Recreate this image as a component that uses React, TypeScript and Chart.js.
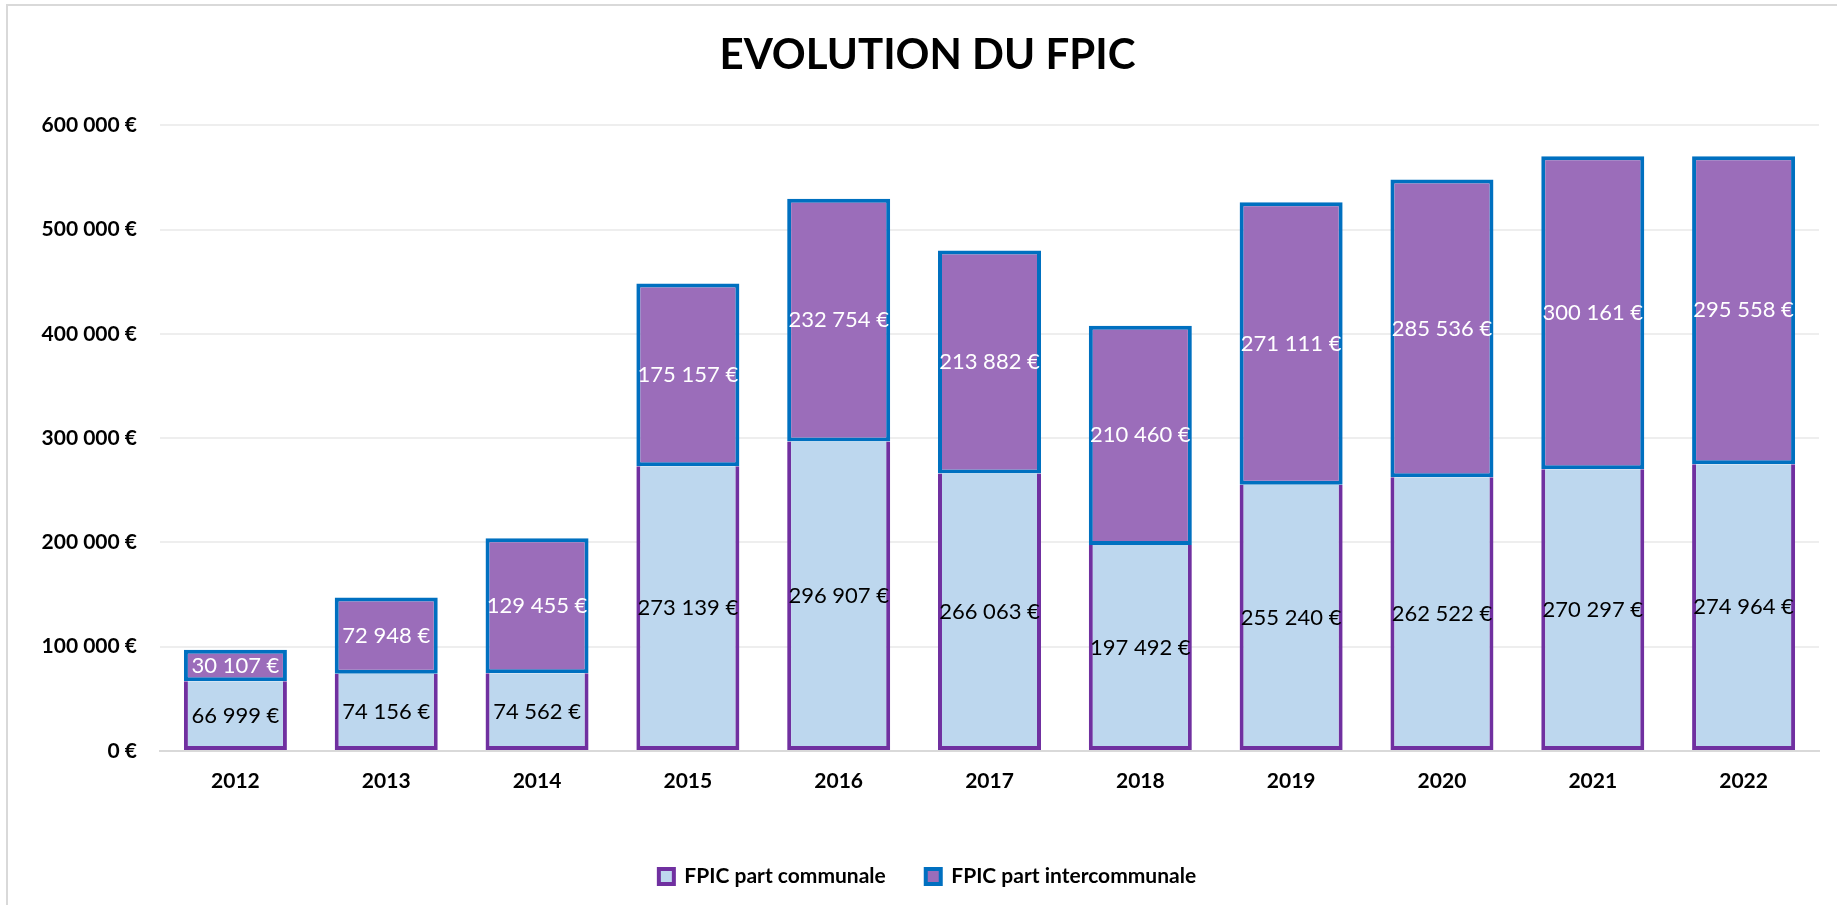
import React, { useEffect, useRef } from "react";
import { Chart, registerables } from "chart.js";

Chart.register(...registerables);

const years = ["2012", "2013", "2014", "2015", "2016", "2017", "2018", "2019", "2020", "2021", "2022"];
const partCommunale = [66999, 74156, 74562, 273139, 296907, 266063, 197492, 255240, 262522, 270297, 274964];
const partIntercommunale = [30107, 72948, 129455, 175157, 232754, 213882, 210460, 271111, 285536, 300161, 295558];
const yTicks = [0, 100000, 200000, 300000, 400000, 500000, 600000];

const FONT = "Lato, 'Open Sans', sans-serif";

const fmt = (v: number) => String(Math.round(v)).replace(/\B(?=(\d{3})+(?!\d))/g, " ") + " €";

const labelPlugin = {
  id: "barLabels",
  afterDatasetsDraw(chart: any) {
    const ctx = chart.ctx;
    ctx.save();
    ctx.font = `22px ${FONT}`;
    ctx.textAlign = "center";
    ctx.textBaseline = "middle";
    chart.data.datasets.forEach((ds: any, di: number) => {
      const meta = chart.getDatasetMeta(di);
      if (meta.hidden) return;
      ctx.fillStyle = di === 0 ? "#000000" : "#FFFFFF";
      meta.data.forEach((el: any, i: number) => {
        const y = (el.y + el.base) / 2;
        ctx.fillText(fmt(ds.data[i]), el.x, y);
      });
    });
    ctx.restore();
  },
};

export default function App() {
  const ref = useRef<HTMLCanvasElement | null>(null);
  useEffect(() => {
    if (!ref.current) return;
    const chart = new Chart(ref.current, {
      type: "bar",
      data: {
        labels: years,
        datasets: [
          {
            label: "FPIC part communale",
            data: partCommunale,
            backgroundColor: "#BDD7EE",
            borderColor: "#7030A0",
            borderWidth: 4,
            borderSkipped: "top",
          },
          {
            label: "FPIC part intercommunale",
            data: partIntercommunale,
            backgroundColor: "#9B6DBA",
            borderColor: "#0070C0",
            borderWidth: 4,
            borderSkipped: false,
          },
        ],
      },
      options: {
        animation: false,
        responsive: false,
        maintainAspectRatio: false,
        layout: { padding: { left: 36, right: 18, top: 0, bottom: 8 } },
        datasets: { bar: { categoryPercentage: 1, barPercentage: 0.683 } },
        plugins: {
          title: {
            display: true,
            text: "EVOLUTION DU FPIC",
            color: "#000000",
            font: { family: FONT, size: 42, weight: "bold", lineHeight: 1.2 },
            padding: { top: 30, bottom: 45 },
          },
          legend: {
            position: "bottom",
            labels: {
              color: "#000000",
              font: { family: FONT, size: 21, weight: "bold" },
              boxWidth: 15,
              boxHeight: 15,
              padding: 40,
            },
          },
          tooltip: { enabled: false },
        },
        scales: {
          x: {
            stacked: true,
            grid: { display: false, drawTicks: false },
            border: { display: true, color: "#D9D9D9", width: 2 },
            ticks: {
              color: "#000000",
              font: { family: FONT, size: 21, weight: "bold" },
              padding: 18,
            },
            afterFit: (scale: any) => {
              scale.height = 75;
            },
          },
          y: {
            stacked: true,
            min: 0,
            max: 600000,
            afterBuildTicks: (scale: any) => {
              scale.ticks = yTicks.map((v) => ({ value: v }));
            },
            grid: { color: "#EEEEEE", lineWidth: 2, drawTicks: false },
            border: { display: false },
            ticks: {
              color: "#000000",
              font: { family: FONT, size: 21, weight: "bold" },
              padding: 23,
              callback: (v: any) => fmt(Number(v)),
            },
            afterFit: (scale: any) => {
              scale.width = 124;
            },
          },
        },
      },
      plugins: [labelPlugin],
    });
    return () => chart.destroy();
  }, []);

  return (
    <div style={{ position: "fixed", left: 0, top: 0, width: 1837, height: 905, background: "#FFFFFF" }}>
      <div
        style={{
          position: "absolute",
          left: 6,
          top: 4,
          width: 1840,
          height: 910,
          border: "2px solid #D9D9D9",
          boxSizing: "border-box",
        }}
      />
      <canvas ref={ref} width={1837} height={905} style={{ position: "absolute", left: 0, top: 0 }} />
    </div>
  );
}
